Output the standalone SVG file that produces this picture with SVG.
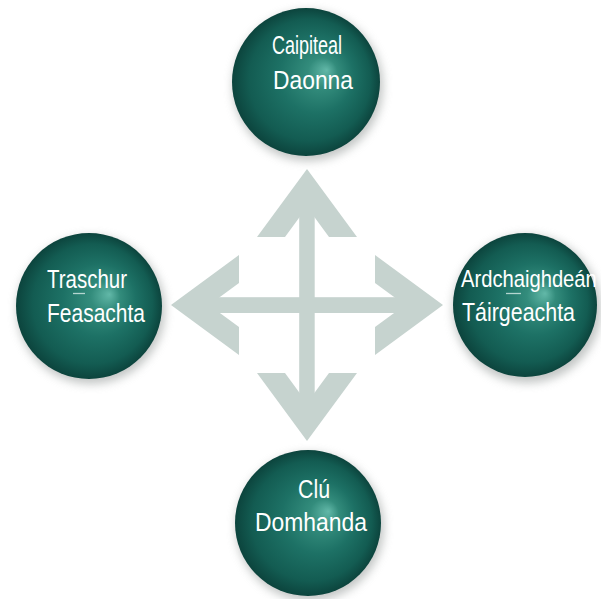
<svg xmlns="http://www.w3.org/2000/svg" width="601" height="599" viewBox="0 0 601 599">
<defs>
<radialGradient id="ball" cx="50%" cy="50%" r="50%" fx="64%" fy="42%">
<stop offset="0" stop-color="#62b8a8"/>
<stop offset="0.2" stop-color="#338c7c"/>
<stop offset="0.5" stop-color="#1d7165"/>
<stop offset="0.82" stop-color="#135c52"/>
<stop offset="1" stop-color="#0c443d"/>
</radialGradient>
<filter id="shadow" x="-30%" y="-30%" width="160%" height="160%">
<feGaussianBlur stdDeviation="5"/>
</filter>
<style>
.arrow{fill:#c6d3cf;}
.sh{fill:#9a9f9d;opacity:0.6;filter:url(#shadow);}
.ball{fill:url(#ball);}
.lbl{font-family:"Liberation Sans",Arial,sans-serif;font-size:25px;fill:#ffffff;}
.ul{stroke:#d8ece8;stroke-width:1.3;opacity:0.8;}
</style>
</defs>
<rect width="601" height="599" fill="#ffffff"/>
<g id="connectors">
<polygon class="arrow" points="307,169 257,237 285,237 307,207 329,237 357,237"/>
<polygon class="arrow" points="307,441 257,373 285,373 307,403 329,373 357,373"/>
<polygon class="arrow" points="171,305 239,255 239,283 209,305 239,327 239,355"/>
<polygon class="arrow" points="443,305 375,255 375,283 405,305 375,327 375,355"/>
<rect class="arrow" x="299.2" y="205" width="15.5" height="200"/>
<rect class="arrow" x="207" y="297.2" width="200" height="15.8"/>
</g>
<g id="node-top">
<circle class="sh" cx="308" cy="86" r="75"/>
<circle class="ball" cx="306" cy="82" r="74"/>
<text class="lbl" x="272" y="54" textLength="70" lengthAdjust="spacingAndGlyphs">Caipiteal</text>
<text class="lbl" x="273" y="89" textLength="80" lengthAdjust="spacingAndGlyphs">Daonna</text>
</g>
<g id="node-left">
<circle class="sh" cx="91" cy="310" r="74"/>
<circle class="ball" cx="89" cy="306" r="73"/>
<text class="lbl" x="47" y="288" textLength="80" lengthAdjust="spacingAndGlyphs">Traschur</text>
<line class="ul" x1="73" y1="293.5" x2="85" y2="293.5"/>
<text class="lbl" x="47" y="322" textLength="98" lengthAdjust="spacingAndGlyphs">Feasachta</text>
</g>
<g id="node-right">
<circle class="sh" cx="527" cy="309" r="74"/>
<circle class="ball" cx="525" cy="305" r="72"/>
<text class="lbl" transform="translate(461,287) scale(1,1.22)" style="font-size:20.2px">Ardchaighdeán</text>
<line class="ul" x1="506" y1="293.5" x2="521" y2="293.5"/>
<text class="lbl" x="462" y="321" textLength="113" lengthAdjust="spacingAndGlyphs">Táirgeachta</text>
</g>
<g id="node-bottom">
<circle class="sh" cx="310" cy="527" r="74"/>
<circle class="ball" cx="308" cy="523" r="73"/>
<text class="lbl" x="298" y="498" textLength="32" lengthAdjust="spacingAndGlyphs">Clú</text>
<text class="lbl" x="255" y="531" textLength="112" lengthAdjust="spacingAndGlyphs">Domhanda</text>
</g>
</svg>
